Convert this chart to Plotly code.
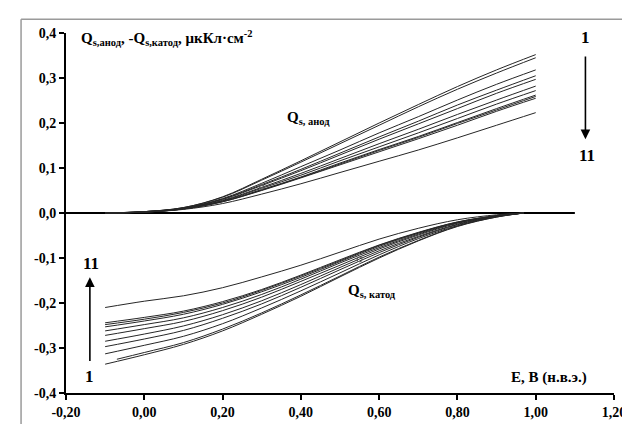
import plotly.graph_objects as go

# ---- data ----
E_grid = [-0.10, 0.00, 0.10, 0.20, 0.30, 0.40, 0.50, 0.60, 0.70, 0.80, 0.90, 1.00]

anode_1 = [0.000, 0.003, 0.012, 0.036, 0.075, 0.116, 0.158, 0.200, 0.241, 0.281, 0.318, 0.352]
anode_2 = [0.000, 0.003, 0.012, 0.035, 0.073, 0.113, 0.154, 0.195, 0.236, 0.275, 0.311, 0.345]
anode_3 = [0.000, 0.003, 0.011, 0.032, 0.066, 0.103, 0.140, 0.178, 0.214, 0.251, 0.286, 0.318]
anode_4 = [0.000, 0.003, 0.011, 0.031, 0.063, 0.097, 0.133, 0.169, 0.204, 0.240, 0.273, 0.305]
anode_5 = [0.000, 0.003, 0.010, 0.030, 0.061, 0.094, 0.129, 0.164, 0.198, 0.232, 0.266, 0.297]
anode_6 = [0.000, 0.002, 0.010, 0.028, 0.057, 0.088, 0.121, 0.154, 0.186, 0.219, 0.251, 0.282]
anode_7 = [0.000, 0.002, 0.010, 0.027, 0.055, 0.084, 0.116, 0.147, 0.178, 0.210, 0.242, 0.272]
anode_8 = [0.000, 0.002, 0.009, 0.026, 0.052, 0.080, 0.111, 0.141, 0.170, 0.201, 0.232, 0.262]
anode_9 = [0.000, 0.002, 0.009, 0.025, 0.051, 0.079, 0.109, 0.139, 0.168, 0.199, 0.229, 0.259]
anode_10 = [0.000, 0.002, 0.009, 0.025, 0.050, 0.078, 0.107, 0.136, 0.165, 0.195, 0.226, 0.255]
anode_11 = [0.000, 0.002, 0.008, 0.021, 0.042, 0.065, 0.090, 0.115, 0.140, 0.167, 0.195, 0.223]

E_cat = [-0.10, 0.00, 0.10, 0.20, 0.30, 0.40, 0.50, 0.60, 0.70, 0.80, 0.90, 0.97]
E_cat_2 = [-0.07, 0.00, 0.10, 0.20, 0.30, 0.40, 0.50, 0.60, 0.70, 0.80, 0.90, 0.97]

cathode_1 = [-0.336, -0.315, -0.292, -0.262, -0.225, -0.185, -0.142, -0.100, -0.062, -0.030, -0.009, 0.0]
cathode_2 = [-0.325, -0.310, -0.288, -0.258, -0.222, -0.182, -0.140, -0.098, -0.061, -0.029, -0.009, 0.0]
cathode_3 = [-0.313, -0.294, -0.274, -0.246, -0.211, -0.173, -0.133, -0.093, -0.057, -0.028, -0.008, 0.0]
cathode_4 = [-0.297, -0.280, -0.261, -0.234, -0.202, -0.165, -0.126, -0.088, -0.054, -0.026, -0.008, 0.0]
cathode_5 = [-0.285, -0.269, -0.251, -0.226, -0.195, -0.159, -0.121, -0.084, -0.052, -0.025, -0.007, 0.0]
cathode_6 = [-0.272, -0.257, -0.241, -0.217, -0.187, -0.152, -0.116, -0.080, -0.049, -0.023, -0.007, 0.0]
cathode_7 = [-0.262, -0.248, -0.233, -0.210, -0.181, -0.147, -0.111, -0.077, -0.047, -0.022, -0.007, 0.0]
cathode_8 = [-0.253, -0.240, -0.225, -0.203, -0.175, -0.143, -0.108, -0.074, -0.045, -0.021, -0.006, 0.0]
cathode_9 = [-0.248, -0.236, -0.221, -0.200, -0.172, -0.140, -0.106, -0.072, -0.044, -0.020, -0.006, 0.0]
cathode_10 = [-0.244, -0.232, -0.218, -0.197, -0.170, -0.138, -0.104, -0.071, -0.043, -0.020, -0.006, 0.0]
cathode_11 = [-0.210, -0.196, -0.184, -0.166, -0.142, -0.116, -0.087, -0.058, -0.034, -0.015, -0.004, 0.0]

zero_E = [-0.20, 1.10]
zero_Q = [0.0, 0.0]

marker_E = [0.30, 0.55]
marker_Q = [0.058, -0.103]

x_ticks = [-0.2, 0.0, 0.2, 0.4, 0.6, 0.8, 1.0, 1.2]
x_ticktext = ["-0,20", "0,00", "0,20", "0,40", "0,60", "0,80", "1,00", "1,20"]
y_ticks = [-0.4, -0.3, -0.2, -0.1, 0.0, 0.1, 0.2, 0.3, 0.4]
y_ticktext = ["-0,4", "-0,3", "-0,2", "-0,1", "0,0", "0,1", "0,2", "0,3", "0,4"]

anodes = [anode_1, anode_2, anode_3, anode_4, anode_5, anode_6,
          anode_7, anode_8, anode_9, anode_10, anode_11]
cathodes = [cathode_1, cathode_2, cathode_3, cathode_4, cathode_5, cathode_6,
            cathode_7, cathode_8, cathode_9, cathode_10, cathode_11]

FONT = "Liberation Serif, Times New Roman, serif"
LINE_COLOR = "#262626"

fig = go.Figure()

fig.add_trace(go.Scatter(x=zero_E, y=zero_Q, mode="lines",
                         line=dict(color="black", width=2), hoverinfo="skip"))

for q in anodes:
    fig.add_trace(go.Scatter(x=E_grid, y=q, mode="lines",
                             line=dict(color=LINE_COLOR, width=1, shape="spline", smoothing=1.0)))
for i, q in enumerate(cathodes):
    xs = E_cat_2 if i == 1 else E_cat
    fig.add_trace(go.Scatter(x=xs, y=q, mode="lines",
                             line=dict(color=LINE_COLOR, width=1, shape="spline", smoothing=1.0)))

fig.add_trace(go.Scatter(x=marker_E, y=marker_Q, mode="markers",
                         marker=dict(symbol="circle-open", size=5, color="#555555",
                                     line=dict(width=1))))

tickf = dict(family=FONT, size=14, color="black", weight="bold")

def tf(size):
    return dict(family=FONT, size=size, color="black", weight="bold")

annotations = [
    dict(x=-0.168, y=0.39, xref="x", yref="y", xanchor="left", yanchor="middle",
         text="Q<sub>s,анод</sub>, -Q<sub>s,катод</sub>, μкКл·см<sup>-2</sup>",
         showarrow=False, font=tf(15)),
    dict(x=0.419, y=0.211, xref="x", yref="y", showarrow=False,
         text="Q<sub>s, анод</sub>", font=tf(15)),
    dict(x=0.582, y=-0.174, xref="x", yref="y", showarrow=False,
         text="Q<sub>s, катод</sub>", font=tf(15)),
    dict(x=1.137, y=-0.366, xref="x", yref="y", xanchor="right", showarrow=False,
         text="E, В (н.в.э.)", font=tf(15)),
    dict(x=1.127, y=0.39, xref="x", yref="y", showarrow=False,
         text="1", font=tf(17)),
    dict(x=1.13, y=0.127, xref="x", yref="y", showarrow=False,
         text="11", font=tf(17)),
    dict(x=1.127, y=0.164, ax=1.127, ay=0.351, xref="x", yref="y", axref="x", ayref="y",
         showarrow=True, arrowhead=2, arrowsize=1.2, arrowwidth=1.6, arrowcolor="black", text=""),
    dict(x=-0.137, y=-0.113, xref="x", yref="y", showarrow=False,
         text="11", font=tf(17)),
    dict(x=-0.141, y=-0.364, xref="x", yref="y", showarrow=False,
         text="1", font=tf(17)),
    dict(x=-0.139, y=-0.143, ax=-0.139, ay=-0.332, xref="x", yref="y", axref="x", ayref="y",
         showarrow=True, arrowhead=2, arrowsize=1.2, arrowwidth=1.6, arrowcolor="black", text=""),
]

shapes = [
    dict(type="line", xref="paper", yref="paper", x0=-0.082, x1=1.05, y0=1.038, y1=1.038,
         line=dict(color="#9a9a9a", width=1.5)),
    dict(type="line", xref="paper", yref="paper", x0=-0.082, x1=-0.082, y0=1.038, y1=-0.1,
         line=dict(color="#9a9a9a", width=1.5)),
]

fig.update_layout(
    width=630, height=424,
    margin=dict(l=58, r=18, t=25, b=28),
    paper_bgcolor="white", plot_bgcolor="white",
    showlegend=False,
    annotations=annotations,
    shapes=shapes,
    xaxis=dict(range=[-0.2, 1.2], tickvals=x_ticks, ticktext=x_ticktext,
               showgrid=False, zeroline=False, showline=True, linecolor="black", linewidth=2,
               ticks="outside", ticklen=5, tickwidth=2, tickcolor="black",
               tickfont=tickf),
    yaxis=dict(range=[-0.4, 0.4], tickvals=y_ticks, ticktext=y_ticktext,
               showgrid=False, zeroline=False, showline=True, linecolor="black", linewidth=2,
               ticks="outside", ticklen=5, tickwidth=2, tickcolor="black",
               tickfont=tickf),
)

fig.write_html("out.html")
